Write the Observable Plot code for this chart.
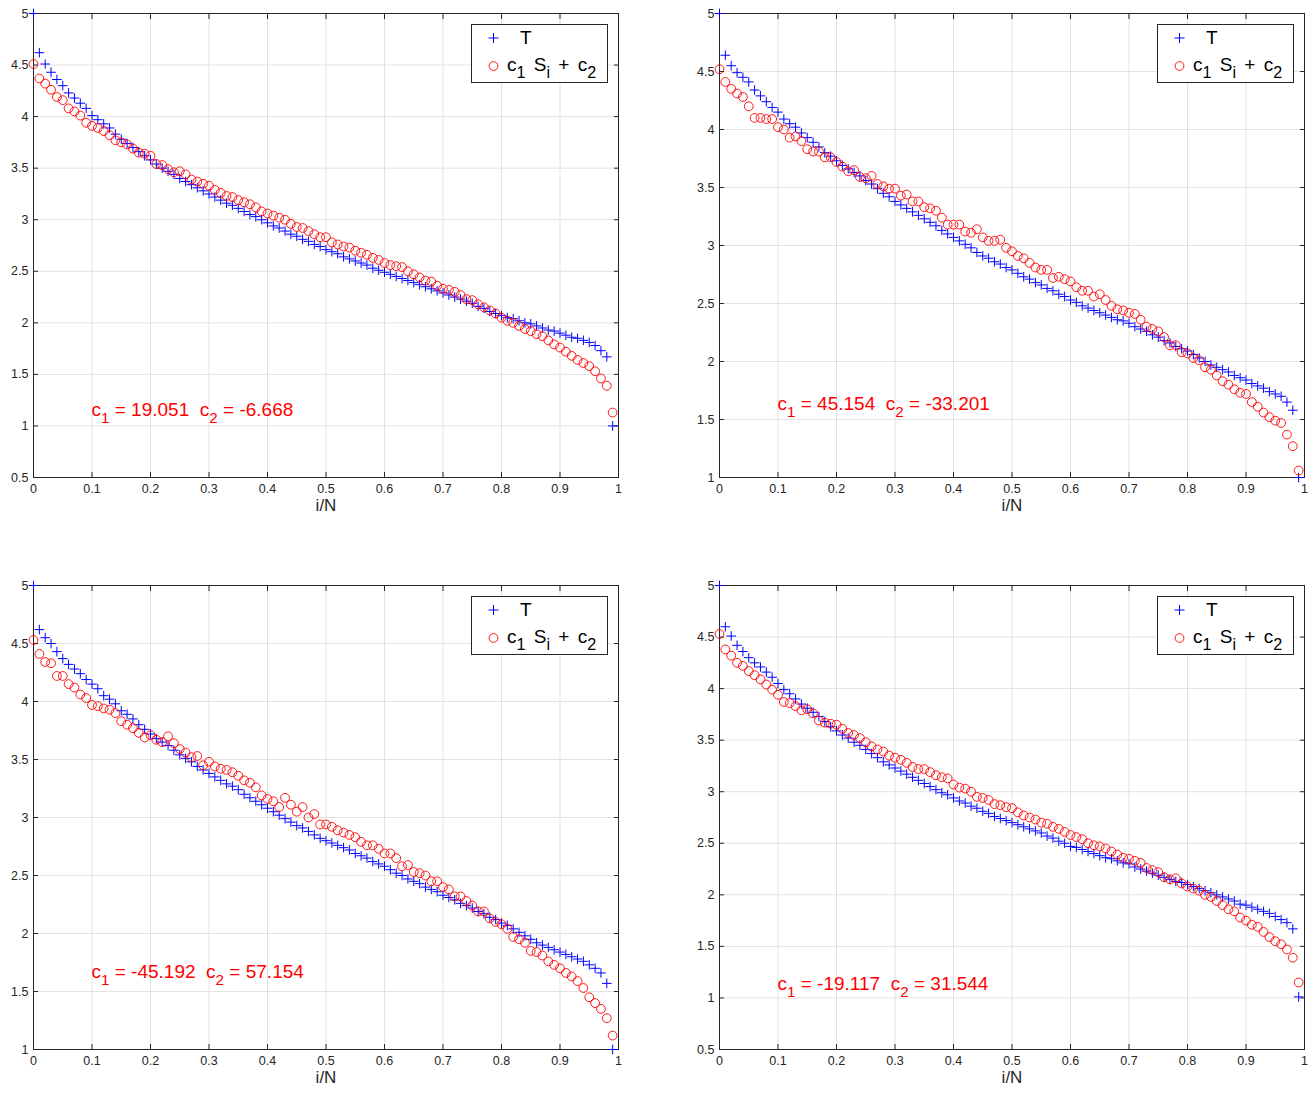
<!DOCTYPE html>
<html><head><meta charset="utf-8">
<script src="https://cdn.jsdelivr.net/npm/d3@7"></script>
<script src="https://cdn.jsdelivr.net/npm/@observablehq/plot@0.6"></script>
<style>
body{margin:0;background:#fff;font-family:"Liberation Sans",Helvetica,Arial,sans-serif;}
#root{position:relative;width:1314px;height:1094px;overflow:hidden;}
.panel{position:absolute;width:650px;height:535px;}
.legend{position:absolute;width:137px;height:59px;box-sizing:border-box;border:1px solid #262626;background:#fff;font-size:19px;color:#000;}
.legend .lt{position:absolute;white-space:pre;line-height:20px;word-spacing:3px;}
.legend sub{font-size:0.85em;}
.ann{position:absolute;color:#ff0000;font-size:19px;white-space:pre;transform:translateY(-50%);line-height:20px;}
sub{font-size:0.8em;vertical-align:-0.45em;line-height:0;}
</style></head><body><div id="root"></div>
<script>
const iN = [0,0.01,0.02,0.03,0.04,0.05,0.06,0.07,0.08,0.09,0.1,0.11,0.12,0.13,0.14,0.15,0.16,0.17,0.18,0.19,0.2,0.21,0.22,0.23,0.24,0.25,0.26,0.27,0.28,0.29,0.3,0.31,0.32,0.33,0.34,0.35,0.36,0.37,0.38,0.39,0.4,0.41,0.42,0.43,0.44,0.45,0.46,0.47,0.48,0.49,0.5,0.51,0.52,0.53,0.54,0.55,0.56,0.57,0.58,0.59,0.6,0.61,0.62,0.63,0.64,0.65,0.66,0.67,0.68,0.69,0.7,0.71,0.72,0.73,0.74,0.75,0.76,0.77,0.78,0.79,0.8,0.81,0.82,0.83,0.84,0.85,0.86,0.87,0.88,0.89,0.9,0.91,0.92,0.93,0.94,0.95,0.96,0.97,0.98,0.99];

const T1 = [5.00,4.62,4.51,4.43,4.36,4.30,4.23,4.18,4.13,4.08,
4.01,3.97,3.93,3.89,3.83,3.78,3.74,3.70,3.66,3.62,
3.58,3.54,3.50,3.47,3.44,3.40,3.37,3.34,3.31,3.28,
3.25,3.22,3.19,3.16,3.14,3.11,3.08,3.05,3.03,3.00,
2.97,2.94,2.92,2.89,2.86,2.84,2.81,2.79,2.76,2.74,
2.71,2.69,2.67,2.64,2.62,2.60,2.58,2.56,2.53,2.51,
2.49,2.47,2.45,2.43,2.41,2.39,2.37,2.35,2.33,2.31,
2.29,2.27,2.25,2.23,2.21,2.19,2.16,2.14,2.11,2.09,
2.07,2.05,2.04,2.02,2.00,1.99,1.97,1.95,1.93,1.92,
1.90,1.88,1.86,1.85,1.83,1.81,1.78,1.73,1.67,1.00];
const S1 = [4.51,4.37,4.32,4.26,4.19,4.16,4.08,4.05,4.01,3.94,
3.91,3.89,3.86,3.82,3.77,3.75,3.73,3.69,3.65,3.64,
3.62,3.54,3.53,3.49,3.46,3.47,3.44,3.39,3.37,3.35,
3.33,3.29,3.26,3.23,3.22,3.19,3.17,3.15,3.12,3.08,
3.06,3.04,3.02,3.00,2.96,2.93,2.92,2.89,2.86,2.83,
2.83,2.78,2.76,2.74,2.73,2.70,2.68,2.66,2.63,2.61,
2.58,2.56,2.55,2.54,2.50,2.47,2.44,2.41,2.40,2.36,
2.33,2.32,2.30,2.27,2.23,2.22,2.18,2.15,2.12,2.09,
2.05,2.02,2.00,1.97,1.94,1.92,1.89,1.87,1.83,1.79,
1.76,1.72,1.68,1.64,1.61,1.58,1.53,1.46,1.39,1.13];

const T2 = [5.00,4.64,4.55,4.49,4.45,4.41,4.34,4.29,4.24,4.19,
4.15,4.09,4.05,4.02,3.97,3.93,3.89,3.85,3.80,3.77,
3.73,3.69,3.66,3.63,3.60,3.56,3.53,3.49,3.45,3.42,
3.38,3.35,3.32,3.29,3.26,3.23,3.20,3.17,3.13,3.10,
3.07,3.04,3.01,2.98,2.94,2.91,2.89,2.86,2.84,2.81,
2.79,2.76,2.73,2.71,2.68,2.66,2.63,2.61,2.58,2.56,
2.53,2.51,2.48,2.46,2.44,2.42,2.40,2.38,2.36,2.35,
2.33,2.30,2.28,2.26,2.23,2.21,2.18,2.16,2.13,2.11,
2.09,2.06,2.03,2.00,1.97,1.95,1.93,1.91,1.88,1.86,
1.84,1.81,1.79,1.77,1.74,1.72,1.70,1.65,1.58,1.00];
const S2 = [4.52,4.41,4.35,4.31,4.28,4.20,4.10,4.10,4.09,4.09,
4.02,4.00,3.93,3.94,3.90,3.83,3.81,3.81,3.76,3.76,
3.72,3.68,3.64,3.65,3.59,3.58,3.60,3.53,3.51,3.49,
3.49,3.43,3.44,3.38,3.38,3.33,3.32,3.30,3.24,3.18,
3.18,3.18,3.12,3.11,3.14,3.07,3.04,3.04,3.05,2.98,
2.95,2.91,2.89,2.85,2.81,2.79,2.79,2.72,2.73,2.71,
2.69,2.64,2.61,2.61,2.56,2.58,2.53,2.48,2.45,2.44,
2.42,2.41,2.36,2.30,2.28,2.26,2.21,2.14,2.14,2.08,
2.07,2.03,2.01,1.95,1.93,1.88,1.83,1.80,1.76,1.73,
1.72,1.65,1.61,1.56,1.52,1.49,1.47,1.37,1.27,1.06];

const T3 = [5.00,4.62,4.55,4.50,4.43,4.37,4.32,4.28,4.24,4.19,
4.15,4.11,4.05,4.02,3.98,3.92,3.89,3.85,3.80,3.76,
3.72,3.68,3.65,3.62,3.58,3.54,3.51,3.48,3.44,3.41,
3.38,3.35,3.32,3.29,3.27,3.24,3.20,3.17,3.14,3.11,
3.08,3.05,3.02,2.99,2.96,2.93,2.91,2.88,2.85,2.82,
2.80,2.78,2.76,2.74,2.72,2.69,2.67,2.65,2.62,2.60,
2.58,2.55,2.52,2.50,2.47,2.45,2.43,2.40,2.38,2.36,
2.33,2.31,2.29,2.26,2.24,2.22,2.19,2.17,2.14,2.12,
2.09,2.07,2.04,2.01,1.98,1.95,1.92,1.90,1.88,1.86,
1.84,1.82,1.80,1.78,1.76,1.73,1.70,1.66,1.57,1.00];
const S3 = [4.53,4.41,4.34,4.33,4.22,4.22,4.15,4.12,4.06,4.03,
3.97,3.96,3.94,3.93,3.90,3.83,3.80,3.77,3.73,3.69,
3.71,3.67,3.65,3.70,3.64,3.59,3.56,3.52,3.53,3.45,
3.48,3.44,3.42,3.41,3.39,3.36,3.32,3.30,3.26,3.19,
3.16,3.14,3.09,3.17,3.11,3.05,3.09,3.00,3.03,2.94,
2.94,2.92,2.89,2.87,2.85,2.83,2.79,2.76,2.76,2.73,
2.69,2.69,2.65,2.58,2.59,2.53,2.52,2.50,2.45,2.45,
2.40,2.38,2.32,2.32,2.28,2.24,2.19,2.19,2.13,2.10,
2.08,2.04,1.97,1.95,1.92,1.85,1.84,1.81,1.76,1.73,
1.70,1.66,1.63,1.59,1.53,1.45,1.40,1.35,1.27,1.12];

const T4 = [5.00,4.60,4.51,4.42,4.36,4.30,4.25,4.21,4.16,4.11,
4.05,3.99,3.95,3.90,3.85,3.81,3.77,3.73,3.68,3.63,
3.59,3.55,3.52,3.48,3.45,3.41,3.37,3.33,3.29,3.26,
3.23,3.20,3.17,3.14,3.11,3.08,3.05,3.02,2.99,2.97,
2.94,2.91,2.89,2.86,2.84,2.81,2.79,2.76,2.74,2.72,
2.70,2.68,2.66,2.64,2.62,2.60,2.57,2.55,2.52,2.50,
2.47,2.46,2.44,2.42,2.40,2.38,2.36,2.35,2.33,2.31,
2.30,2.27,2.25,2.23,2.21,2.19,2.17,2.15,2.13,2.12,
2.10,2.08,2.06,2.04,2.02,2.00,1.98,1.96,1.94,1.91,
1.90,1.88,1.86,1.84,1.82,1.79,1.76,1.73,1.67,1.01];
const S4 = [4.53,4.38,4.32,4.25,4.22,4.17,4.13,4.09,4.04,3.99,
3.94,3.87,3.86,3.83,3.79,3.80,3.76,3.69,3.67,3.66,
3.65,3.61,3.57,3.55,3.52,3.48,3.44,3.41,3.39,3.35,
3.33,3.31,3.28,3.24,3.22,3.22,3.19,3.16,3.14,3.13,
3.07,3.04,3.03,3.00,2.95,2.94,2.92,2.88,2.87,2.85,
2.84,2.80,2.77,2.75,2.73,2.70,2.69,2.66,2.64,2.61,
2.58,2.56,2.54,2.50,2.48,2.47,2.45,2.42,2.39,2.36,
2.35,2.33,2.31,2.26,2.24,2.22,2.17,2.15,2.16,2.11,
2.08,2.06,2.04,2.00,1.98,1.94,1.90,1.86,1.84,1.78,
1.75,1.71,1.69,1.64,1.59,1.55,1.52,1.47,1.39,1.15];

const xTicks = [0,0.1,0.2,0.3,0.4,0.5,0.6,0.7,0.8,0.9,1];
const xTickLabels = ["0","0.1","0.2","0.3","0.4","0.5","0.6","0.7","0.8","0.9","1"];
const yTicksA = [0.5,1,1.5,2,2.5,3,3.5,4,4.5,5];
const yTickLabelsA = ["0.5","1","1.5","2","2.5","3","3.5","4","4.5","5"];
const yTicksB = [1,1.5,2,2.5,3,3.5,4,4.5,5];
const yTickLabelsB = ["1","1.5","2","2.5","3","3.5","4","4.5","5"];
const c1Values = ["19.051","45.154","-45.192","-19.117"];
const c2Values = ["-6.668","-33.201","57.154","31.544"];
const xLabel = "i/N";
const legendNames = ["T", "c<sub>1</sub> S<sub>i</sub> + c<sub>2</sub>"];

const FONT = '"Liberation Sans", Helvetica, Arial, sans-serif';
const GRID = "#e2e2e2";
const AX = "#262626";

const panels = [
  {T: T1, S: S1, yMin: 0.5, yTicks: yTicksA, yLabels: yTickLabelsA, k: 0, left: 0, top: 0, annY: 1.15},
  {T: T2, S: S2, yMin: 1, yTicks: yTicksB, yLabels: yTickLabelsB, k: 1, left: 686, top: 0, annY: 1.63},
  {T: T3, S: S3, yMin: 1, yTicks: yTicksB, yLabels: yTickLabelsB, k: 2, left: 0, top: 572, annY: 1.66},
  {T: T4, S: S4, yMin: 0.5, yTicks: yTicksA, yLabels: yTickLabelsA, k: 3, left: 686, top: 572, annY: 1.13}
];

const root = document.getElementById("root");
const xFmt = new Map(xTicks.map((d, i) => [d, xTickLabels[i]]));

for (const p of panels) {
  const rows = iN.map((x, i) => ({x, T: p.T[i], S: p.S[i]}));
  const yFmt = new Map(p.yTicks.map((d, i) => [d, p.yLabels[i]]));
  const plot = Plot.plot({
    width: 650, height: 535,
    marginLeft: 33, marginRight: 32, marginTop: 13, marginBottom: 58,
    x: {domain: [0, 1]},
    y: {domain: [p.yMin, 5]},
    style: {fontFamily: FONT, fontSize: "12.5px", color: AX, background: "transparent", overflow: "visible"},
    marks: [
      Plot.gridX(xTicks, {stroke: GRID, strokeOpacity: 1, strokeWidth: 1}),
      Plot.gridY(p.yTicks, {stroke: GRID, strokeOpacity: 1, strokeWidth: 1}),
      Plot.axisX(xTicks, {tickSize: 0, tickPadding: 7, tickFormat: d => xFmt.get(d), label: null}),
      Plot.axisX(xTicks, {tickSize: -5, tickFormat: () => "", label: null}),
      Plot.axisX(xTicks, {anchor: "top", tickSize: -5, tickFormat: () => "", label: null}),
      Plot.axisY(p.yTicks, {tickSize: 0, tickPadding: 5, tickFormat: d => yFmt.get(d), label: null}),
      Plot.axisY(p.yTicks, {tickSize: -5, tickFormat: () => "", label: null}),
      Plot.axisY(p.yTicks, {anchor: "right", tickSize: -5, tickFormat: () => "", label: null}),
      Plot.frame({stroke: AX, strokeWidth: 1}),
      Plot.dot(rows, {x: "x", y: "T", symbol: "plus", stroke: "#0000ff", r: 3.2, strokeWidth: 1}),
      Plot.dot(rows, {x: "x", y: "S", symbol: "circle", stroke: "#ff0000", fill: "none", r: 4.4, strokeWidth: 0.9}),
      Plot.text([xLabel], {frameAnchor: "bottom", dy: 33, fontSize: 17, fill: AX})
    ]
  });
  const div = document.createElement("div");
  div.className = "panel";
  div.style.left = p.left + "px";
  div.style.top = p.top + "px";
  div.appendChild(plot);

  const xs = plot.scale("x"), ys = plot.scale("y");
  const ann = document.createElement("div");
  ann.className = "ann";
  ann.innerHTML = `c<sub>1</sub> = ${c1Values[p.k]}  c<sub>2</sub> = ${c2Values[p.k]}`;
  ann.style.left = xs.apply(0.1) + "px";
  ann.style.top = ys.apply(p.annY) + "px";
  div.appendChild(ann);

  const lg = document.createElement("div");
  lg.className = "legend";
  const right = xs.apply(1);
  const topY = ys.apply(5);
  lg.style.left = (right - 10 - 137) + "px";
  lg.style.top = (topY + 11) + "px";
  lg.innerHTML = `<svg width="137" height="59" style="position:absolute;left:-1px;top:-1px;overflow:visible">
      <path d="M17.5,14H27.5M22.5,9V19" stroke="#0000ff" stroke-width="1" fill="none"/>
      <circle cx="22.5" cy="42" r="4.4" fill="none" stroke="#ff0000" stroke-width="0.9"/>
    </svg>
    <div class="lt" style="left:48px;top:3px;">${legendNames[0]}</div>
    <div class="lt" style="left:35px;top:30px;">${legendNames[1]}</div>`;
  div.appendChild(lg);

  root.appendChild(div);
}
</script>
</body></html>
